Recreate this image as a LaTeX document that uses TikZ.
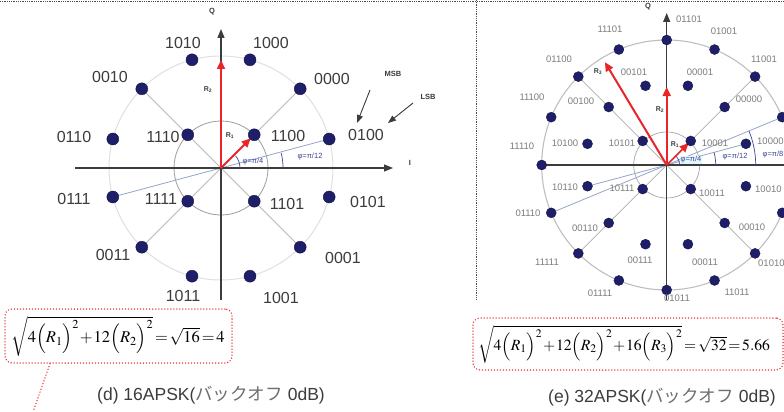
\documentclass[tikz,border=0pt]{standalone}
\usepackage{mathptmx}
\usepackage{fontspec}
\setsansfont{Liberation Sans}
\newfontfamily\jpfont{Noto Sans CJK JP}
\usetikzlibrary{arrows.meta}
\definecolor{navy}{RGB}{30,30,105}
\definecolor{lblL}{RGB}{60,60,60}
\definecolor{lblR}{RGB}{125,125,125}
\definecolor{axisc}{RGB}{60,60,60}
\definecolor{redv}{RGB}{232,38,42}
\definecolor{bluel}{RGB}{60,70,150}
\definecolor{spokec}{RGB}{185,185,185}
\definecolor{blueline}{RGB}{150,165,200}
\definecolor{kana}{RGB}{110,110,110}
\begin{document}
\begin{tikzpicture}[x=1pt,y=-1pt,
  dotL/.style={circle,fill=navy,draw=navy!70!black,line width=0.4pt,inner sep=0pt,minimum size=12pt},
  dotR/.style={circle,fill=navy,draw=navy!70!black,line width=0.4pt,inner sep=0pt,minimum size=10pt},
  lblLs/.style={font=\sffamily\fontsize{16}{18}\selectfont,text=lblL,inner sep=0pt},
  lblRs/.style={font=\sffamily\fontsize{9.5}{11}\selectfont,text=lblR,inner sep=0pt},
  axisline/.style={draw=axisc,line width=1.3pt,-{Triangle[length=9pt,width=7pt]}},
  redarrow/.style={draw=redv,line width=2pt,-{Triangle[length=9pt,width=8pt]}},
  spoke/.style={draw=spokec,line width=0.9pt},
  bline/.style={draw=blueline,line width=0.8pt},
  anglearc/.style={draw=bluel,line width=0.7pt},
  anglbl/.style={font=\sffamily\fontsize{7.5}{9}\selectfont,text=bluel,inner sep=0.5pt},
  axlbl/.style={font=\sffamily\bfseries\fontsize{7.5}{9}\selectfont,text=axisc,inner sep=0pt},
  rlbl/.style={font=\sffamily\bfseries\fontsize{7}{8}\selectfont,text=axisc,inner sep=0pt},
  fbox/.style={draw=redv,line width=1.5pt,dash pattern=on 0.01pt off 3pt,line cap=round,rounded corners=7pt},
  reddot/.style={draw=redv,line width=1.5pt,dash pattern=on 0.01pt off 3pt,line cap=round},
  formula/.style={inner sep=0pt,font=\fontsize{16.5}{20}\selectfont},
  captionst/.style={inner sep=0pt,font=\sffamily\fontsize{17.5}{20}\selectfont,text=lblL},
  sep/.style={draw=black!70,line width=0.6pt,dash pattern=on 0.6pt off 1.2pt}
]
\useasboundingbox (0,0) rectangle (784,412);
\clip (0,0) rectangle (784,412);
\fill[white] (0,0) rectangle (784,412);

% separators
\coordinate (sepTL) at (0,1.5);
\coordinate (sepTR) at (784,1.5);
\coordinate (sepVt) at (476,0);
\coordinate (sepVb) at (476,300);
\draw[sep] (sepTL) -- (sepTR);
\draw[sep] (sepVt) -- (sepVb);

% ================= LEFT: 16APSK =================
\begin{scope}[shift={(221,168)}]
  \coordinate (LO) at (0,0);
  \draw[draw=black!12,line width=1pt] (LO) circle[radius=112pt];
  \draw[draw=black!38,line width=0.8pt] (LO) circle[radius=47pt];
  \foreach \n/\a in {1010/105,1000/75,0010/135,0000/45,0110/165,0100/15,0111/195,0101/345,0011/225,0001/315,1011/255,1001/285}
    \coordinate (cL\n) at (\a:112pt);
  \foreach \n/\a in {1110/135,1100/45,1111/225,1101/315}
    \coordinate (cL\n) at (\a:47pt);
  \draw[spoke] (LO) -- (cL0000);
  \draw[spoke] (LO) -- (cL0010);
  \draw[spoke] (LO) -- (cL0011);
  \draw[spoke] (LO) -- (cL0001);
  \draw[bline] (cL0111) -- (cL0100);
  \coordinate (LIl) at (-146,0);
  \coordinate (LIr) at (172,0);
  \coordinate (LQb) at (0,132);
  \coordinate (LQt) at (0,-139);
  \draw[axisline] (LIl) -- (LIr);
  \draw[axisline] (LQb) -- (LQt);
  \draw[anglearc] (19pt,0pt) arc[start angle=0,end angle=40,radius=19pt];
  \draw[anglearc] (62pt,0pt) arc[start angle=0,end angle=14,radius=62pt];
  \coordinate (LR2) at (90:108pt);
  \coordinate (LR1) at (45:42pt);
  \draw[redarrow] (LO) -- (LR2);
  \draw[redarrow] (LO) -- (LR1);
  \foreach \n in {1010,1000,0010,0000,0110,0100,0111,0101,0011,0001,1011,1001,1110,1100,1111,1101}
    \node[dotL] (L\n) at (cL\n) {};
\end{scope}
% left labels
\node[lblLs] (tL1010) at (183,43) {1010};
\node[lblLs] (tL1000) at (271,43) {1000};
\node[lblLs] (tL0010) at (110,77) {0010};
\node[lblLs] (tL0000) at (332,79) {0000};
\node[lblLs] (tL0110) at (74,137) {0110};
\node[lblLs] (tL1110) at (163,137) {1110};
\node[lblLs] (tL1100) at (288,136) {1100};
\node[lblLs] (tL0100) at (366,135) {0100};
\node[lblLs] (tL0111) at (74,199) {0111};
\node[lblLs] (tL1111) at (161,199) {1111};
\node[lblLs] (tL1101) at (287,204) {1101};
\node[lblLs] (tL0101) at (368,202) {0101};
\node[lblLs] (tL0011) at (113,255) {0011};
\node[lblLs] (tL0001) at (343,258) {0001};
\node[lblLs] (tL1011) at (183,296) {1011};
\node[lblLs] (tL1001) at (281,298) {1001};
\node[axlbl] (tLQ) at (212,12) {Q};
\node[axlbl] (tLI) at (410,163) {I};
\node[rlbl] (tLR2) at (208,90) {R\textsubscript{2}};
\node[rlbl] (tLR1) at (230,136) {R\textsubscript{1}};
\node[anglbl] (tLphi4) at (253,162) {φ=π/4};
\node[anglbl] (tLphi12) at (310,157) {φ=π/12};
\node[axlbl] (tMSB) at (393,74) {MSB};
\node[axlbl] (tLSB) at (428,97) {LSB};
\coordinate (msbT) at (370,90);
\coordinate (msbH) at (357,123);
\coordinate (lsbT) at (413,103);
\coordinate (lsbH) at (388,123);
\draw[draw=axisc,line width=0.9pt,-{Triangle[length=8pt,width=6pt]}] (msbT) -- (msbH);
\draw[draw=axisc,line width=0.9pt,-{Triangle[length=8pt,width=6pt]}] (lsbT) -- (lsbH);

% ================= RIGHT: 32APSK =================
\begin{scope}[shift={(666.7,165)}]
  \coordinate (RO) at (0,0);
  \draw[draw=black!25,line width=1.1pt] (RO) circle[radius=125pt];
  \draw[draw=black!35,line width=0.7pt] (RO) circle[radius=33pt];
  \foreach \n/\a in {01101/90,01001/67.5,11001/45,o22/22.5,o0/0,o337/337.5,01010/315,11011/292.5,01011/270,01111/247.5,11111/225,01110/202.5,11110/180,11100/157.5,01100/135,11101/112.5}
    \coordinate (cR\n) at (\a:125pt);
  \foreach \n/\a in {00101/105,00001/75,00000/45,10000/15,10010/345,00010/315,00011/285,00111/255,00110/225,10110/195,10100/165,00100/135}
    \coordinate (cR\n) at (\a:82pt);
  \foreach \n/\a in {10001/45,10101/135,10111/225,10011/315}
    \coordinate (cR\n) at (\a:34pt);
  \draw[spoke] (RO) -- (cR11001);
  \draw[spoke] (RO) -- (cR01100);
  \draw[spoke] (RO) -- (cR11111);
  \draw[spoke] (RO) -- (cR01010);
  \draw[bline] (cR01110) -- (cRo22);
  \draw[bline] (cR10110) -- (cR10000);
  \coordinate (RIl) at (-130,0);
  \coordinate (RIr) at (130,0);
  \coordinate (RQb) at (0,135);
  \coordinate (RQt) at (0,-152);
  \draw[axisline] (RIl) -- (RIr);
  \draw[axisline] (RQb) -- (RQt);
  \draw[anglearc] (13pt,0pt) arc[start angle=0,end angle=45,radius=13pt];
  \draw[anglearc] (49pt,0pt) arc[start angle=0,end angle=15,radius=49pt];
  \draw[anglearc] (89pt,0pt) arc[start angle=0,end angle=22.5,radius=89pt];
  \coordinate (RR3) at (121:120pt);
  \coordinate (RR2) at (90:78pt);
  \coordinate (RR1) at (45:31pt);
  \draw[redarrow] (RO) -- (RR3);
  \draw[redarrow] (RO) -- (RR2);
  \draw[redarrow,line width=1.6pt] (RO) -- (RR1);
  \foreach \n in {01101,01001,11001,o22,o0,o337,01010,11011,01011,01111,11111,01110,11110,11100,01100,11101,00101,00001,00000,10000,10010,00010,00011,00111,00110,10110,10100,00100,10001,10101,10111,10011}
    \node[dotR] (R\n) at (cR\n) {};
\end{scope}
% right labels
\node[lblRs] (tR01101) at (689,19) {01101};
\node[lblRs] (tR01001) at (724,31) {01001};
\node[lblRs] (tR11001) at (764,59) {11001};
\node[lblRs,anchor=west] (tR01010) at (758,263) {01010};
\node[lblRs] (tR11011) at (737,292) {11011};
\node[lblRs] (tR01011) at (677,298) {01011};
\node[lblRs] (tR01111) at (600,293) {01111};
\node[lblRs] (tR11111) at (547,262) {11111};
\node[lblRs] (tR01110) at (528,213) {01110};
\node[lblRs] (tR11110) at (522,146) {11110};
\node[lblRs] (tR11100) at (532,97) {11100};
\node[lblRs] (tR01100) at (559,59) {01100};
\node[lblRs] (tR11101) at (610,29) {11101};
\node[lblRs] (tR00101) at (634,72) {00101};
\node[lblRs] (tR00001) at (700,72) {00001};
\node[lblRs] (tR00000) at (749,99) {00000};
\node[lblRs,anchor=west] (tR10000) at (757,141) {10000};
\node[lblRs,anchor=west] (tR10010) at (755,189) {10010};
\node[lblRs] (tR00010) at (752,227) {00010};
\node[lblRs] (tR00011) at (705,262) {00011};
\node[lblRs] (tR00111) at (640,260) {00111};
\node[lblRs] (tR00110) at (585,228) {00110};
\node[lblRs] (tR10110) at (565,187) {10110};
\node[lblRs] (tR10100) at (565,143) {10100};
\node[lblRs] (tR00100) at (581,101) {00100};
\node[lblRs] (tR10001) at (715,143) {10001};
\node[lblRs] (tR10101) at (622,143) {10101};
\node[lblRs] (tR10111) at (622,188) {10111};
\node[lblRs] (tR10011) at (712,193) {10011};
\node[axlbl] (tRQ) at (648,7) {Q};
\node[rlbl] (tRR3) at (598,72) {R\textsubscript{3}};
\node[rlbl] (tRR2) at (660,110) {R\textsubscript{2}};
\node[rlbl] (tRR1) at (675,145) {R\textsubscript{1}};
\node[anglbl,fill=cyan!12] (tRphi4) at (691,160) {φ=π/4};
\node[anglbl] (tRphi12) at (735,157) {φ=π/12};
\node[anglbl,anchor=west] (tRphi8) at (762,155) {φ=π/8};

% ================= formulas and captions =================
\node[fbox,minimum width=227pt,minimum height=54pt] (boxL) at (118.5,336) {};
\node[formula] (fL) at (118,336) {\medmuskip=1mu\thickmuskip=2mu$\sqrt{4\Bigl(R_1\Bigr)^2+12\Bigl(R_2\Bigr)^2}=\sqrt{16}=4$};
\coordinate (tailL) at (33,412);
\draw[reddot] ([xshift=-68.5pt]boxL.south) -- (tailL);
\node[fbox,minimum width=310pt,minimum height=52pt] (boxR) at (628,344) {};
\node[formula,font=\fontsize{15.6}{19}\selectfont] (fR) at (624,344) {\medmuskip=1mu\thickmuskip=2mu$\sqrt{4\Bigl(R_1\Bigr)^2+12\Bigl(R_2\Bigr)^2+16\Bigl(R_3\Bigr)^2}=\sqrt{32}=5.66$};
\node[captionst] (capD) at (211,395) {(d) 16APSK({\jpfont\color{kana}バックオフ} 0dB)};
\node[captionst] (capE) at (662,397) {(e) 32APSK({\jpfont\color{kana}バックオフ} 0dB)};
\end{tikzpicture}
\end{document}
